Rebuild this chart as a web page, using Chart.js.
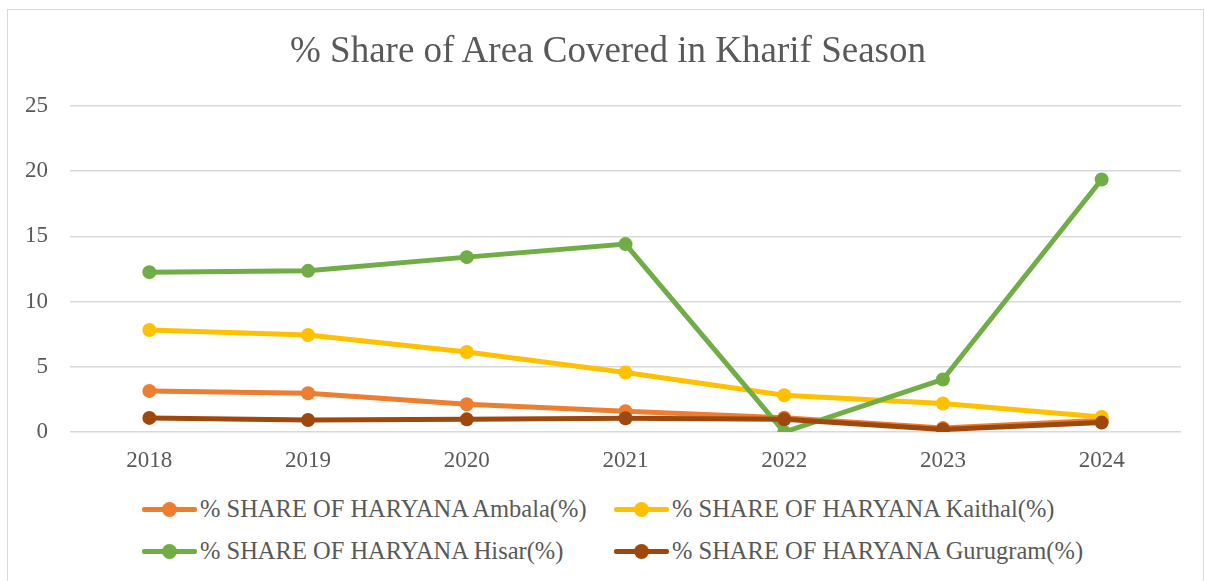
<!DOCTYPE html>
<html>
<head>
<meta charset="utf-8">
<script src="https://cdn.jsdelivr.net/npm/chart.js@4/dist/chart.umd.min.js"></script>
<style>
    body { margin: 0; background: #fff; width: 1205px; height: 581px; overflow: hidden; position: relative; }
    #frame { position: absolute; left: 7px; top: 9px; width: 1197px; height: 590px; border: 1px solid #d9d9d9; box-sizing: border-box; overflow: hidden; }
    #chart { position: absolute; left: 1px; top: 1px; }
    #title { position: absolute; left: 0; top: 18px; width: 1200px; height: 44px; line-height: 44px; text-align: center; font-family: "Liberation Serif", "Times New Roman", serif; font-size: 37px; color: #595959; white-space: nowrap; }
    #legend { position: absolute; left: 0; top: 486px; width: 1195px; font-family: "Liberation Serif", "Times New Roman", serif; font-size: 24.5px; color: #595959; }
    .item { position: absolute; display: flex; align-items: center; height: 26px; white-space: nowrap; }
    .mark { position: relative; width: 55px; height: 26px; margin-right: 3px; }
    .mark .ln { position: absolute; left: 0; right: 0; top: 11px; height: 4.5px; border-radius: 2px; }
    .mark .dot { position: absolute; left: 20px; top: 6px; width: 15px; height: 15px; border-radius: 50%; }
</style>
</head>
<body>
<div id="frame">
    <canvas id="chart" width="1196" height="470"></canvas>
    <div id="title">% Share of Area Covered in Kharif Season</div>
    <div id="legend"></div>
</div>
<script>
// Data
const years = ['2018', '2019', '2020', '2021', '2022', '2023', '2024'];
const ambala = [3.15, 2.97, 2.13, 1.6, 1.1, 0.3, 0.9];
const kaithal = [7.82, 7.44, 6.13, 4.56, 2.82, 2.18, 1.15];
const hisar = [12.26, 12.36, 13.41, 14.41, 0.0, 4.03, 19.36];
const gurugram = [1.08, 0.92, 0.97, 1.05, 0.97, 0.2, 0.72];
const seriesNames = [
    '% SHARE OF HARYANA Ambala(%)',
    '% SHARE OF HARYANA Kaithal(%)',
    '% SHARE OF HARYANA Hisar(%)',
    '% SHARE OF HARYANA Gurugram(%)'
];
const yTicks = [0, 5, 10, 15, 20, 25];

const textColor = '#595959';
const serif = '"Liberation Serif", "Times New Roman", serif';

// Excel office palette
const colors = ['#ED7D31', '#FFC000', '#70AD47', '#9E480E'];
const values = [ambala, kaithal, hisar, gurugram];

function lineSet(i) {
    return {
        label: seriesNames[i],
        data: values[i],
        borderColor: colors[i],
        backgroundColor: colors[i],
        borderWidth: 5,
        pointRadius: 7,
        pointHoverRadius: 7,
        pointBorderWidth: 0,
        tension: 0,
        order: 3 - i   // later series on top, like Excel
    };
}

const chart = new Chart(document.getElementById('chart'), {
    type: 'line',
    data: {
        labels: years,
        datasets: [0, 1, 2, 3].map(lineSet)
    },
    options: {
        responsive: false,
        animation: false,
        // title is an html div (centred on the whole frame), so leave room above
        layout: { padding: { left: 0, right: 24, top: 95, bottom: 8 } },
        plugins: {
            legend: { display: false },
            tooltip: { enabled: false },
            title: { display: false }
        },
        scales: {
            x: {
                offset: true,
                grid: { display: false, drawTicks: false },
                border: { display: false },
                ticks: { color: textColor, font: { family: serif, size: 23 }, padding: 15 },
                afterFit: s => { s.height = 41; }
            },
            y: {
                min: 0,
                max: 25,
                afterBuildTicks: s => { s.ticks = yTicks.map(v => ({ value: v })); },
                grid: { color: '#d9d9d9', lineWidth: 1.5, drawTicks: false },
                border: { display: false },
                ticks: { color: textColor, font: { family: serif, size: 23 }, padding: 22 },
                afterFit: s => { s.width = 61; }
            }
        }
    }
});

// Legend in two aligned columns, like the Excel one
const legend = document.getElementById('legend');
const cols = [134, 606];
const rows = [0, 42];
chart.data.datasets.forEach((ds, i) => {
    const item = document.createElement('div');
    item.className = 'item';
    item.style.left = cols[i % 2] + 'px';
    item.style.top = rows[Math.floor(i / 2)] + 'px';
    item.innerHTML = '<span class="mark"><span class="ln" style="background:' + ds.borderColor +
        '"></span><span class="dot" style="background:' + ds.borderColor + '"></span></span>' +
        '<span>' + ds.label + '</span>';
    legend.appendChild(item);
});
</script>
</body>
</html>
